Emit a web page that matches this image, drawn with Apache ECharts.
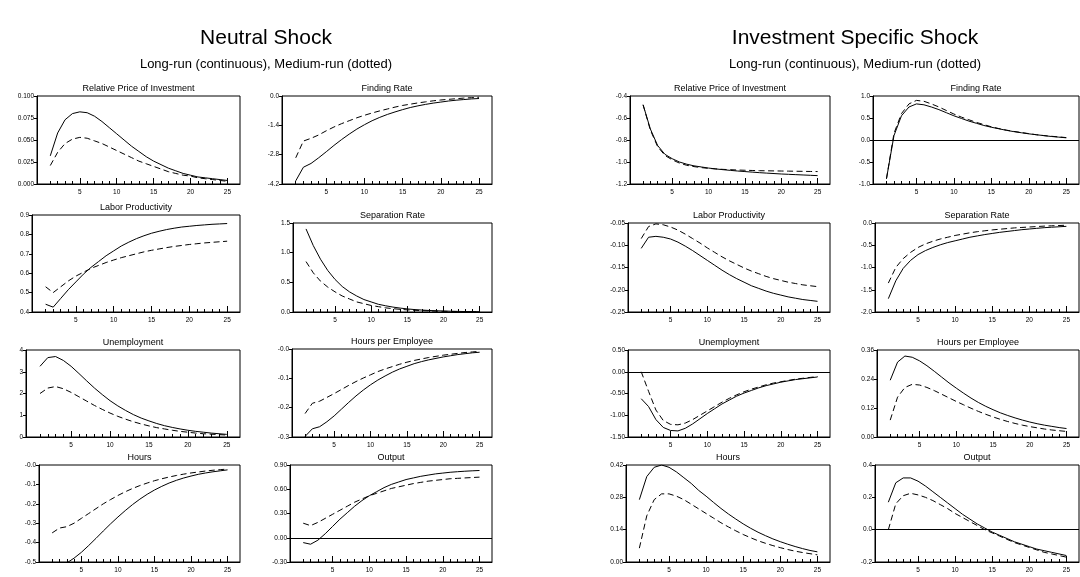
<!DOCTYPE html>
<html>
<head>
<meta charset="utf-8">
<title>Neutral Shock / Investment Specific Shock</title>
<script src="https://cdn.jsdelivr.net/npm/echarts@6.0.0/dist/echarts.min.js"></script>
<style>
  html, body { margin: 0; padding: 0; background: #fff; }
  #chart { width: 1080px; height: 577px; }
</style>
</head>
<body>
<div id="chart"></div>
<script>
// 横轴：季度
const periods = [1, 2, 3, 4, 5, 6, 7, 8, 9, 10, 11, 12, 13, 14, 15, 16, 17, 18, 19, 20, 21, 22, 23, 24, 25];
const xTicksMajor = [5, 10, 15, 20, 25];
const xTicksMinor = [1, 2, 3, 4, 6, 7, 8, 9, 11, 12, 13, 14, 16, 17, 18, 19, 21, 22, 23, 24];

// ---- Neutral Shock ----
const neutralPriceLong = [0.032, 0.058, 0.073, 0.080, 0.082, 0.081, 0.077, 0.071, 0.064, 0.057, 0.050, 0.043, 0.037, 0.031, 0.026, 0.022, 0.018, 0.015, 0.012, 0.010, 0.008, 0.007, 0.006, 0.005, 0.004];
const neutralPriceMedium = [0.021, 0.036, 0.046, 0.051, 0.053, 0.052, 0.049, 0.046, 0.042, 0.038, 0.034, 0.030, 0.026, 0.023, 0.020, 0.017, 0.014, 0.012, 0.010, 0.009, 0.007, 0.006, 0.005, 0.004, 0.003];
const neutralPriceTicks = [0, 0.025, 0.05, 0.075, 0.1];

const neutralFindLong = [-4.05, -3.40, -3.22, -2.95, -2.66, -2.36, -2.08, -1.82, -1.58, -1.37, -1.18, -1.02, -0.88, -0.76, -0.65, -0.55, -0.47, -0.40, -0.34, -0.29, -0.24, -0.20, -0.17, -0.14, -0.12];
const neutralFindMedium = [-2.95, -2.15, -2.02, -1.86, -1.66, -1.48, -1.32, -1.18, -1.04, -0.92, -0.81, -0.71, -0.62, -0.53, -0.45, -0.39, -0.33, -0.28, -0.23, -0.19, -0.16, -0.13, -0.10, -0.08, -0.06];
const neutralFindTicks = [-4.2, -2.8, -1.4, 0];

const neutralLpLong = [0.44, 0.425, 0.47, 0.515, 0.555, 0.595, 0.63, 0.66, 0.69, 0.715, 0.74, 0.76, 0.778, 0.793, 0.806, 0.816, 0.825, 0.832, 0.838, 0.842, 0.846, 0.849, 0.852, 0.854, 0.856];
const neutralLpMedium = [0.53, 0.50, 0.53, 0.56, 0.585, 0.605, 0.625, 0.64, 0.655, 0.668, 0.68, 0.69, 0.70, 0.71, 0.718, 0.725, 0.732, 0.738, 0.743, 0.748, 0.752, 0.756, 0.759, 0.762, 0.765];
const neutralLpTicks = [0.4, 0.5, 0.6, 0.7, 0.8, 0.9];

const neutralSepLong = [1.40, 1.12, 0.89, 0.70, 0.55, 0.43, 0.34, 0.27, 0.21, 0.17, 0.13, 0.105, 0.083, 0.066, 0.052, 0.041, 0.033, 0.026, 0.021, 0.017, 0.013, 0.010, 0.008, 0.007, 0.005];
const neutralSepMedium = [0.85, 0.66, 0.52, 0.42, 0.34, 0.27, 0.22, 0.17, 0.14, 0.11, 0.09, 0.07, 0.056, 0.045, 0.036, 0.029, 0.023, 0.018, 0.014, 0.011, 0.009, 0.007, 0.005, 0.004, 0.003];
const neutralSepTicks = [0, 0.5, 1, 1.5];

const neutralUnempLong = [3.25, 3.65, 3.70, 3.52, 3.25, 2.92, 2.58, 2.25, 1.95, 1.67, 1.43, 1.22, 1.03, 0.87, 0.74, 0.62, 0.52, 0.44, 0.37, 0.31, 0.26, 0.22, 0.18, 0.15, 0.12];
const neutralUnempMedium = [2.00, 2.25, 2.32, 2.22, 2.05, 1.85, 1.65, 1.45, 1.27, 1.10, 0.95, 0.82, 0.70, 0.60, 0.51, 0.43, 0.37, 0.31, 0.26, 0.22, 0.18, 0.15, 0.13, 0.11, 0.09];
const neutralUnempTicks = [0, 1, 2, 3, 4];

const neutralHpeLong = [-0.298, -0.272, -0.265, -0.248, -0.228, -0.205, -0.182, -0.160, -0.140, -0.122, -0.106, -0.092, -0.079, -0.068, -0.059, -0.050, -0.043, -0.037, -0.032, -0.027, -0.023, -0.019, -0.016, -0.013, -0.011];
const neutralHpeMedium = [-0.220, -0.185, -0.178, -0.165, -0.152, -0.138, -0.124, -0.111, -0.099, -0.088, -0.077, -0.068, -0.060, -0.052, -0.045, -0.039, -0.034, -0.029, -0.025, -0.021, -0.018, -0.015, -0.012, -0.010, -0.008];
const neutralHpeTicks = [-0.3, -0.2, -0.1, 0];

const neutralHoursLong = [-0.53, -0.52, -0.505, -0.48, -0.45, -0.415, -0.378, -0.34, -0.303, -0.268, -0.235, -0.204, -0.176, -0.151, -0.129, -0.110, -0.093, -0.079, -0.067, -0.057, -0.048, -0.041, -0.035, -0.030, -0.025];
const neutralHoursMedium = [-0.350, -0.325, -0.318, -0.300, -0.275, -0.250, -0.225, -0.200, -0.178, -0.157, -0.138, -0.121, -0.106, -0.093, -0.081, -0.071, -0.062, -0.054, -0.047, -0.041, -0.036, -0.031, -0.027, -0.024, -0.021];
const neutralHoursTicks = [-0.5, -0.4, -0.3, -0.2, -0.1, 0];

const neutralOutputLong = [-0.06, -0.08, -0.03, 0.05, 0.14, 0.23, 0.31, 0.39, 0.46, 0.52, 0.57, 0.62, 0.66, 0.69, 0.72, 0.74, 0.76, 0.775, 0.79, 0.80, 0.81, 0.817, 0.823, 0.828, 0.832];
const neutralOutputMedium = [0.18, 0.15, 0.19, 0.24, 0.29, 0.34, 0.39, 0.44, 0.48, 0.52, 0.55, 0.58, 0.61, 0.63, 0.65, 0.67, 0.685, 0.70, 0.71, 0.72, 0.73, 0.735, 0.74, 0.745, 0.75];
const neutralOutputTicks = [-0.3, 0, 0.3, 0.6, 0.9];

// ---- Investment Specific Shock ----
const issPriceLong = [-0.48, -0.70, -0.85, -0.93, -0.97, -1.00, -1.02, -1.035, -1.045, -1.055, -1.063, -1.070, -1.076, -1.082, -1.087, -1.092, -1.097, -1.101, -1.105, -1.109, -1.112, -1.115, -1.118, -1.121, -1.124];
const issPriceMedium = [-0.48, -0.71, -0.86, -0.94, -0.98, -1.01, -1.03, -1.042, -1.051, -1.058, -1.063, -1.067, -1.070, -1.073, -1.075, -1.077, -1.079, -1.080, -1.081, -1.082, -1.083, -1.084, -1.085, -1.086, -1.087];
const issPriceTicks = [-1.2, -1.0, -0.8, -0.6, -0.4];

const issFindLong = [-0.88, 0.10, 0.55, 0.75, 0.82, 0.80, 0.75, 0.69, 0.62, 0.55, 0.49, 0.43, 0.38, 0.33, 0.29, 0.255, 0.22, 0.19, 0.165, 0.14, 0.12, 0.10, 0.08, 0.065, 0.05];
const issFindMedium = [-0.88, 0.15, 0.60, 0.82, 0.90, 0.88, 0.82, 0.75, 0.67, 0.59, 0.52, 0.46, 0.40, 0.35, 0.30, 0.26, 0.225, 0.195, 0.17, 0.145, 0.12, 0.10, 0.085, 0.07, 0.055];
const issFindTicks = [-1, -0.5, 0, 0.5, 1];

const issLpLong = [-0.107, -0.082, -0.080, -0.082, -0.086, -0.093, -0.102, -0.112, -0.123, -0.134, -0.145, -0.156, -0.166, -0.175, -0.183, -0.191, -0.197, -0.203, -0.208, -0.212, -0.216, -0.219, -0.222, -0.224, -0.226];
const issLpMedium = [-0.085, -0.058, -0.052, -0.054, -0.059, -0.066, -0.075, -0.085, -0.095, -0.106, -0.116, -0.126, -0.135, -0.143, -0.151, -0.158, -0.164, -0.170, -0.175, -0.179, -0.183, -0.186, -0.189, -0.191, -0.193];
const issLpTicks = [-0.25, -0.2, -0.15, -0.1, -0.05];

const issSepLong = [-1.70, -1.30, -1.02, -0.84, -0.71, -0.62, -0.55, -0.49, -0.44, -0.40, -0.36, -0.32, -0.29, -0.26, -0.235, -0.21, -0.19, -0.17, -0.15, -0.135, -0.12, -0.105, -0.095, -0.085, -0.075];
const issSepMedium = [-1.35, -1.00, -0.80, -0.66, -0.55, -0.47, -0.41, -0.36, -0.32, -0.28, -0.25, -0.22, -0.195, -0.175, -0.155, -0.14, -0.125, -0.11, -0.10, -0.09, -0.08, -0.07, -0.063, -0.057, -0.05];
const issSepTicks = [-2, -1.5, -1, -0.5, 0];

const issUnempLong = [-0.62, -0.80, -1.10, -1.28, -1.35, -1.36, -1.30, -1.20, -1.08, -0.96, -0.85, -0.74, -0.65, -0.56, -0.49, -0.43, -0.37, -0.32, -0.28, -0.24, -0.21, -0.18, -0.16, -0.14, -0.12];
const issUnempMedium = [0.00, -0.45, -0.88, -1.12, -1.21, -1.22, -1.18, -1.10, -1.00, -0.90, -0.80, -0.70, -0.61, -0.53, -0.46, -0.40, -0.35, -0.30, -0.26, -0.23, -0.20, -0.17, -0.15, -0.13, -0.11];
const issUnempTicks = [-1.5, -1, -0.5, 0, 0.5];

const issHpeLong = [0.235, 0.31, 0.335, 0.33, 0.315, 0.295, 0.272, 0.248, 0.224, 0.202, 0.181, 0.161, 0.143, 0.127, 0.113, 0.100, 0.089, 0.079, 0.070, 0.062, 0.055, 0.049, 0.044, 0.039, 0.035];
const issHpeMedium = [0.07, 0.165, 0.205, 0.218, 0.215, 0.205, 0.192, 0.177, 0.162, 0.147, 0.133, 0.119, 0.106, 0.094, 0.083, 0.073, 0.064, 0.056, 0.049, 0.043, 0.038, 0.033, 0.029, 0.026, 0.023];
const issHpeTicks = [0, 0.12, 0.24, 0.36];

const issHoursLong = [0.27, 0.37, 0.41, 0.42, 0.41, 0.39, 0.365, 0.34, 0.31, 0.285, 0.258, 0.232, 0.208, 0.186, 0.165, 0.146, 0.129, 0.114, 0.100, 0.088, 0.077, 0.067, 0.058, 0.050, 0.044];
const issHoursMedium = [0.06, 0.20, 0.27, 0.295, 0.295, 0.285, 0.27, 0.25, 0.23, 0.21, 0.19, 0.17, 0.152, 0.135, 0.119, 0.105, 0.092, 0.081, 0.071, 0.062, 0.054, 0.047, 0.041, 0.036, 0.031];
const issHoursTicks = [0, 0.14, 0.28, 0.42];

const issOutputLong = [0.17, 0.29, 0.32, 0.32, 0.30, 0.27, 0.235, 0.20, 0.165, 0.13, 0.095, 0.065, 0.035, 0.01, -0.015, -0.035, -0.055, -0.075, -0.09, -0.105, -0.12, -0.13, -0.14, -0.15, -0.16];
const issOutputMedium = [0.00, 0.16, 0.21, 0.225, 0.215, 0.20, 0.18, 0.155, 0.13, 0.10, 0.075, 0.05, 0.025, 0.00, -0.02, -0.04, -0.06, -0.08, -0.095, -0.11, -0.125, -0.14, -0.15, -0.16, -0.17];
const issOutputTicks = [-0.2, 0, 0.2, 0.4];

const FONT = "'Liberation Sans', Arial, Helvetica, sans-serif";
const X_MIN = -0.8;
const X_MAX = 26.7;

// 面板配置：rect = [左, 上, 右, 下]
const panels = [
  { title: "Relative Price of Investment", long: neutralPriceLong, medium: neutralPriceMedium, ticks: neutralPriceTicks, digits: 3, rect: [37, 96, 240, 184] },
  { title: "Finding Rate", long: neutralFindLong, medium: neutralFindMedium, ticks: neutralFindTicks, digits: 1, rect: [282, 96, 492, 184] },
  { title: "Labor Productivity", long: neutralLpLong, medium: neutralLpMedium, ticks: neutralLpTicks, digits: 1, rect: [32, 215, 240, 312] },
  { title: "Separation Rate", long: neutralSepLong, medium: neutralSepMedium, ticks: neutralSepTicks, digits: 1, rect: [293, 223, 492, 312] },
  { title: "Unemployment", long: neutralUnempLong, medium: neutralUnempMedium, ticks: neutralUnempTicks, digits: 0, rect: [26, 350, 240, 437] },
  { title: "Hours per Employee", long: neutralHpeLong, medium: neutralHpeMedium, ticks: neutralHpeTicks, digits: 1, negZero: true, rect: [292, 349, 492, 437] },
  { title: "Hours", long: neutralHoursLong, medium: neutralHoursMedium, ticks: neutralHoursTicks, digits: 1, negZero: true, rect: [39, 465, 240, 562] },
  { title: "Output", long: neutralOutputLong, medium: neutralOutputMedium, ticks: neutralOutputTicks, digits: 2, rect: [290, 465, 492, 562] },

  { title: "Relative Price of Investment", long: issPriceLong, medium: issPriceMedium, ticks: issPriceTicks, digits: 1, rect: [630, 96, 830, 184] },
  { title: "Finding Rate", long: issFindLong, medium: issFindMedium, ticks: issFindTicks, digits: 1, rect: [873, 96, 1079, 184] },
  { title: "Labor Productivity", long: issLpLong, medium: issLpMedium, ticks: issLpTicks, digits: 2, rect: [628, 223, 830, 312] },
  { title: "Separation Rate", long: issSepLong, medium: issSepMedium, ticks: issSepTicks, digits: 1, rect: [875, 223, 1079, 312] },
  { title: "Unemployment", long: issUnempLong, medium: issUnempMedium, ticks: issUnempTicks, digits: 2, rect: [628, 350, 830, 437] },
  { title: "Hours per Employee", long: issHpeLong, medium: issHpeMedium, ticks: issHpeTicks, digits: 2, rect: [877, 350, 1079, 437] },
  { title: "Hours", long: issHoursLong, medium: issHoursMedium, ticks: issHoursTicks, digits: 2, rect: [626, 465, 830, 562] },
  { title: "Output", long: issOutputLong, medium: issOutputMedium, ticks: issOutputTicks, digits: 1, rect: [875, 465, 1079, 562] },
];

// 大标题
const headers = [
  { text: "Neutral Shock", x: 266 },
  { text: "Investment Specific Shock", x: 855 },
];
const subtitle = "Long-run (continuous), Medium-run (dotted)";

/**
 * 文本元素
 */
const textEl = (text, x, y, size) => ({
  type: "text",
  silent: true,
  style: {
    text, x, y,
    fill: "#000",
    fontSize: size,
    fontFamily: FONT,
    align: "center",
    verticalAlign: "middle",
    textAlign: "center",
    textVerticalAlign: "middle",
  },
});

/**
 * y轴标签格式
 */
const yFormatter = (p) => (v) => {
  if (Math.abs(v) < 1e-9) {
    return (p.negZero ? "-" : "") + (0).toFixed(p.digits);
  }
  return v.toFixed(p.digits);
};

const grid = [];
const xAxis = [];
const yAxis = [];
const series = [];
const graphic = [];

headers.forEach((h) => {
  graphic.push(textEl(h.text, h.x, 38, 21));
  graphic.push(textEl(subtitle, h.x, 64, 13));
});

panels.forEach((p, i) => {
  const [x0, y0, x1, y1] = p.rect;
  const lo = p.ticks[0];
  const hi = p.ticks[p.ticks.length - 1];

  grid.push({
    left: x0, top: y0, width: x1 - x0, height: y1 - y0,
    show: true, borderColor: "#000", borderWidth: 1,
  });

  // 小刻度轴
  xAxis.push({
    gridIndex: i, type: "value", min: X_MIN, max: X_MAX, position: "bottom",
    axisLine: { show: true, onZero: false, lineStyle: { color: "#000", width: 1 } },
    axisTick: { show: true, inside: true, length: 3, customValues: xTicksMinor, lineStyle: { color: "#000", width: 1 } },
    axisLabel: { show: false },
    splitLine: { show: false },
  });
  // 大刻度 + 标签
  xAxis.push({
    gridIndex: i, type: "value", min: X_MIN, max: X_MAX, position: "bottom",
    axisLine: { show: false, onZero: false },
    axisTick: { show: true, inside: true, length: 6, customValues: xTicksMajor, lineStyle: { color: "#000", width: 1 } },
    axisLabel: { show: true, customValues: xTicksMajor, fontSize: 6.5, fontFamily: FONT, color: "#000", margin: 5 },
    splitLine: { show: false },
  });

  yAxis.push({
    gridIndex: i, type: "value", min: lo, max: hi, position: "left",
    axisLine: { show: true, onZero: false, lineStyle: { color: "#000", width: 1 } },
    axisTick: { show: true, inside: false, length: 3, customValues: p.ticks, lineStyle: { color: "#000", width: 1 } },
    axisLabel: { show: true, customValues: p.ticks, fontSize: 6.5, fontFamily: FONT, color: "#000", margin: 3, formatter: yFormatter(p) },
    splitLine: { show: false },
  });

  const zeroLine = lo < 0 && hi > 0 ? {
    silent: true,
    symbol: ["none", "none"],
    label: { show: false },
    emphasis: { disabled: true },
    lineStyle: { color: "#000", width: 1, type: "solid" },
    data: [{ yAxis: 0 }],
  } : undefined;

  series.push({
    type: "line", xAxisIndex: 2 * i, yAxisIndex: i,
    data: periods.map((t, k) => [t, p.long[k]]),
    symbol: "none", silent: true, clip: true,
    lineStyle: { color: "#000", width: 1, type: "solid" },
    markLine: zeroLine,
  });
  series.push({
    type: "line", xAxisIndex: 2 * i, yAxisIndex: i,
    data: periods.map((t, k) => [t, p.medium[k]]),
    symbol: "none", silent: true, clip: true,
    lineStyle: { color: "#000", width: 1, type: [6, 3.5] },
  });

  graphic.push(textEl(p.title, (x0 + x1) / 2, y0 - 7, 9));
});

const chart = echarts.init(document.getElementById("chart"), null, { renderer: "canvas" });
chart.setOption({
  backgroundColor: "#fff",
  animation: false,
  grid, xAxis, yAxis, series, graphic,
});
</script>
</body>
</html>
